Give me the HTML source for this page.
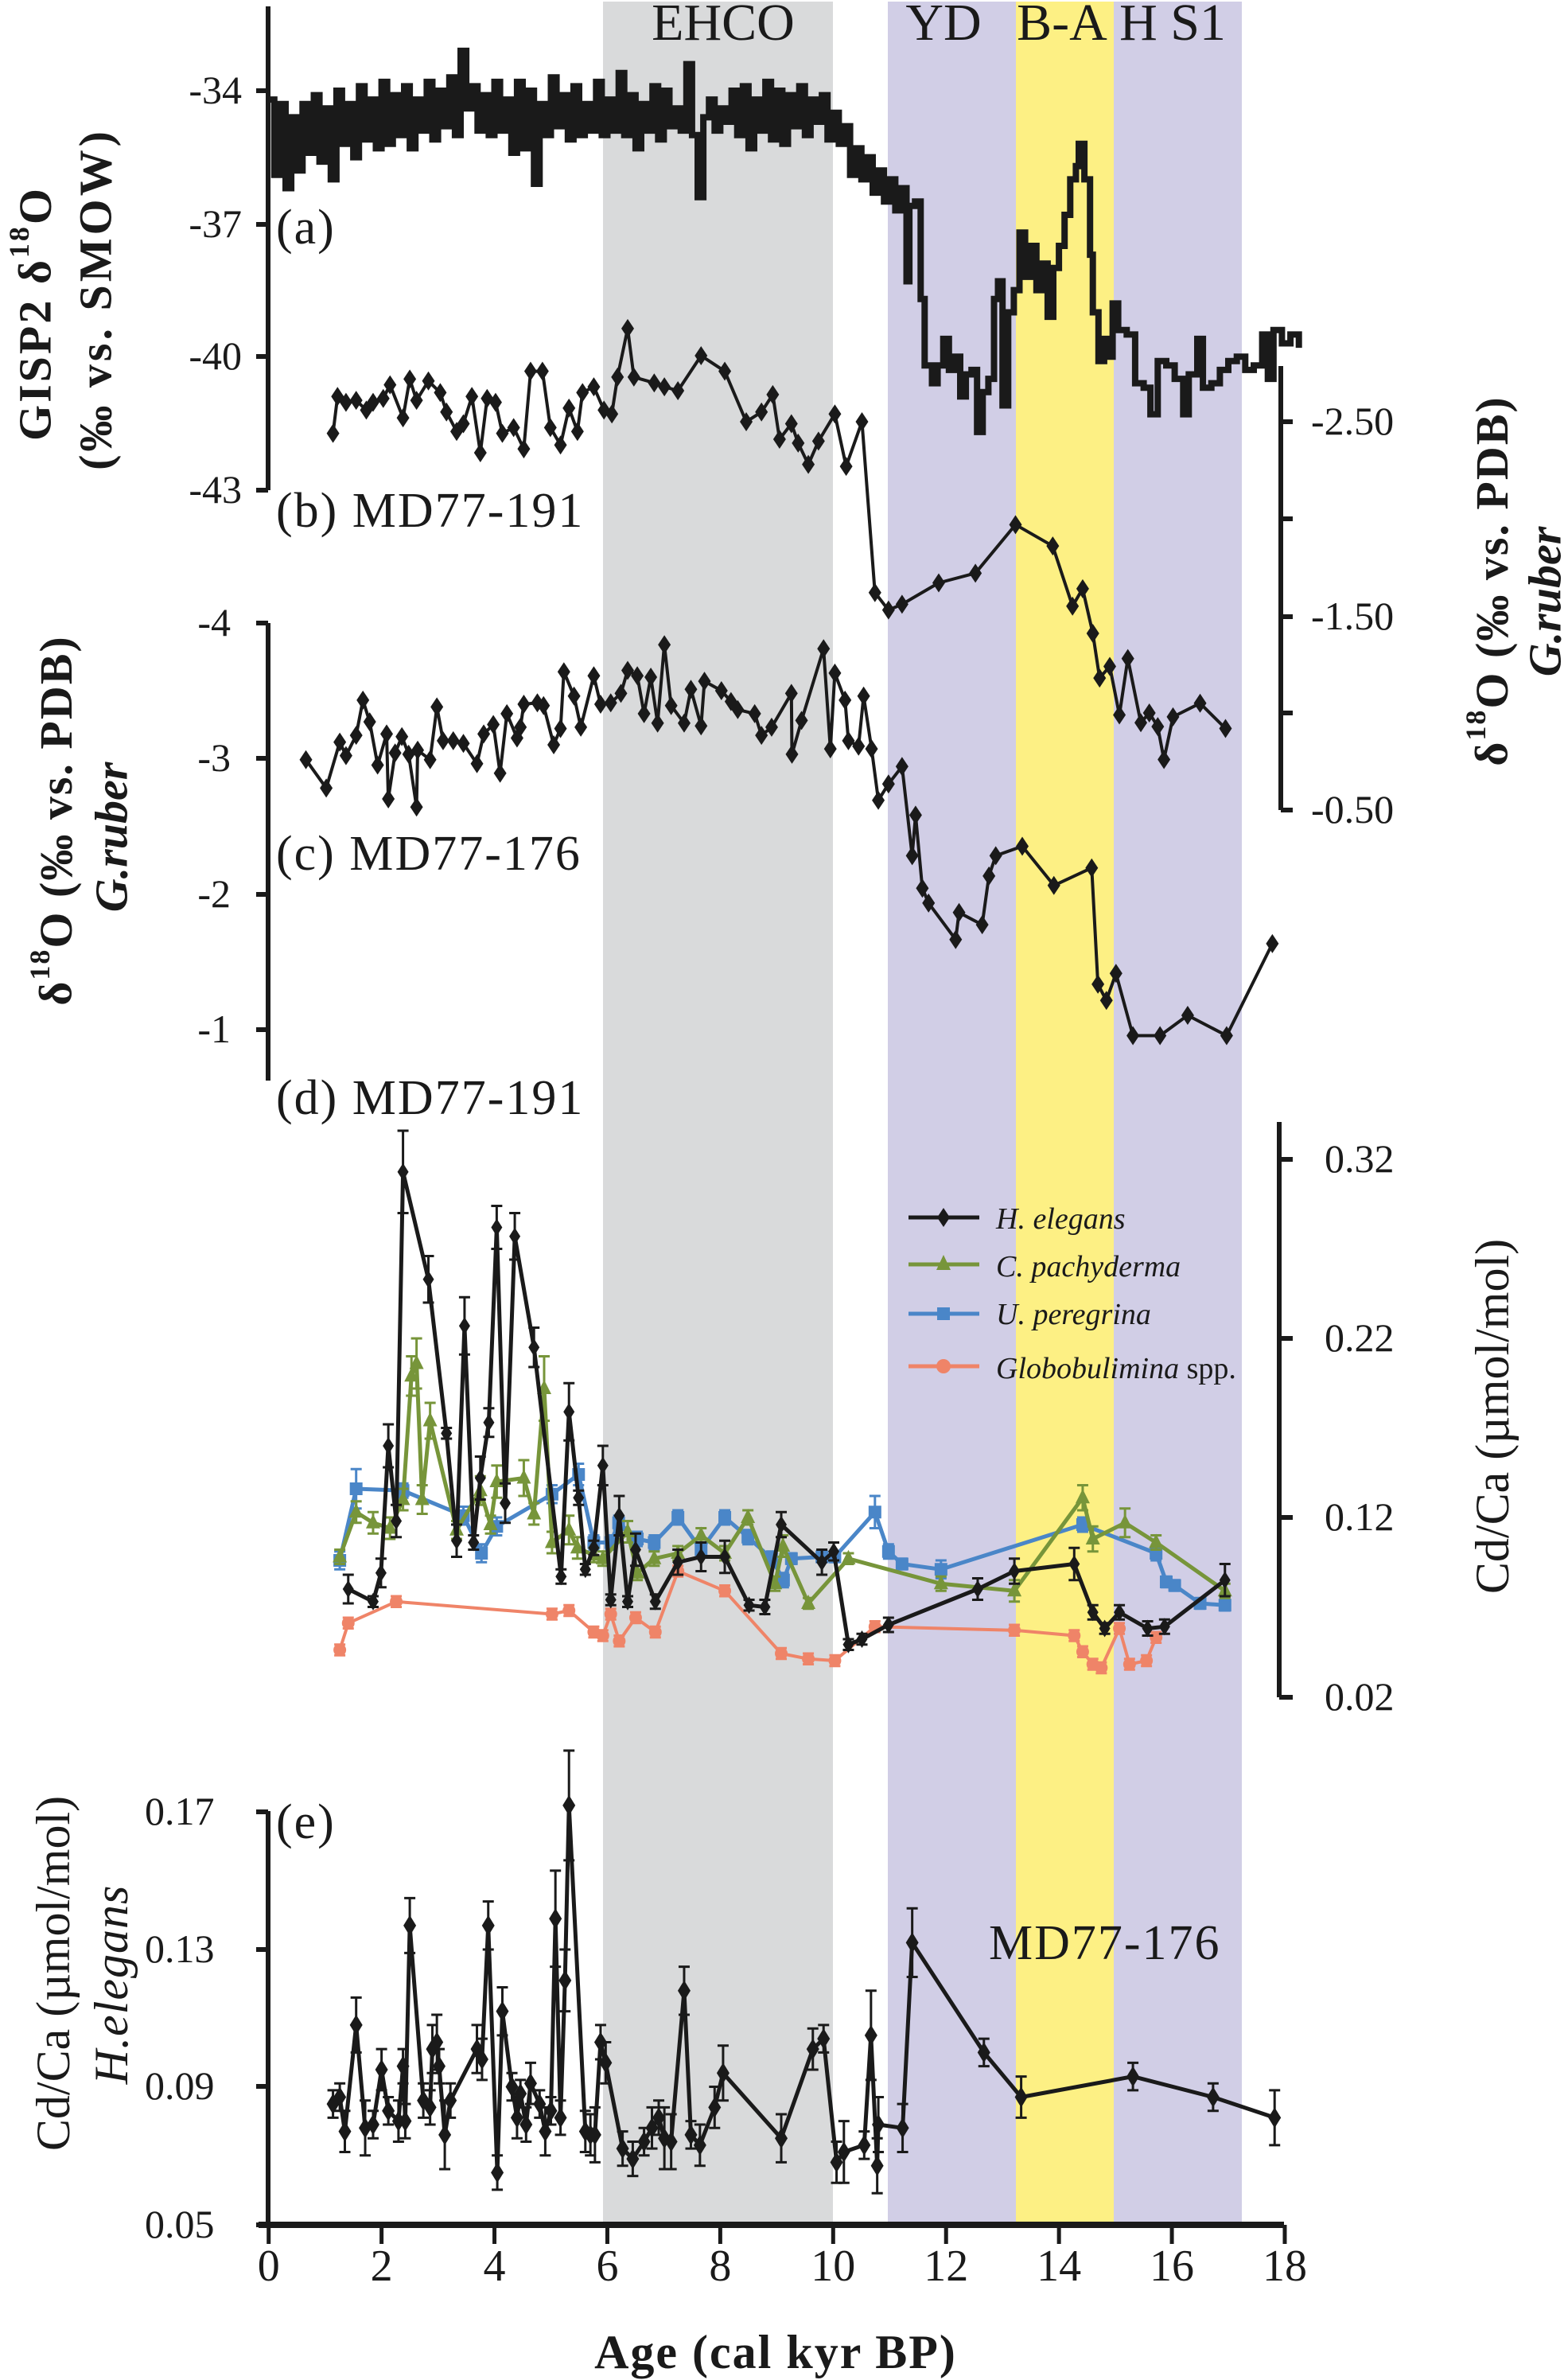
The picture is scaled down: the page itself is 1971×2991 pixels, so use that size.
<!DOCTYPE html>
<html><head><meta charset="utf-8"><title>GISP2 and MD77 records</title>
<style>
html,body{margin:0;padding:0;background:#fff;}
svg{display:block;font-family:"Liberation Serif","DejaVu Serif",serif;}
</style></head>
<body>
<svg id="chart" xmlns="http://www.w3.org/2000/svg" width="1971" height="2991" viewBox="0 0 1971 2991">
  <g>
    <rect x="758" y="2" width="289" height="2790" fill="#d9dadb"/>
    <rect x="1116" y="2" width="161" height="2790" fill="#d1cee6"/>
    <rect x="1277" y="2" width="123" height="2790" fill="#fdf084"/>
    <rect x="1400" y="2" width="161" height="2790" fill="#d1cee6"/>
  </g>
  <g font-size="66" fill="#1a1a1a" text-anchor="middle">
    <text x="909" y="50">EHCO</text>
    <text x="1186" y="50">YD</text>
    <text x="1335" y="50">B-A</text>
    <text x="1474" y="50">H S1</text>
  </g>

  <g stroke="#1a1a1a" stroke-width="6" fill="none">
    <path d="M337 8V616 M322 114H337 M322 282H337 M322 448H337 M322 616H337"/>
    <path d="M1610 460V1018 M1610 530H1625 M1610 652H1625 M1610 775H1625 M1610 896H1625 M1610 1018H1625"/>
    <path d="M337 783V1358 M322 783H337 M322 953H337 M322 1124H337 M322 1294H337"/>
    <path d="M1608 1410V2133 M1608 1457H1625 M1608 1682H1625 M1608 1907H1625 M1608 2133H1625"/>
    <path d="M337 2276V2796 M322 2277H337 M322 2450H337 M322 2622H337 M322 2796H337"/>
    <path stroke-width="8" d="M325 2796H1614"/>
  </g>
  <g id="xticks"></g>

  <g font-size="50" fill="#1a1a1a">
    <g text-anchor="end">
      <text x="304" y="130">-34</text>
      <text x="304" y="298">-37</text>
      <text x="304" y="464">-40</text>
      <text x="304" y="632">-43</text>
    </g>
    <g text-anchor="end">
      <text x="290" y="799">-4</text>
      <text x="290" y="969">-3</text>
      <text x="290" y="1140">-2</text>
      <text x="290" y="1310">-1</text>
    </g>
    <g>
      <text x="1648" y="546">-2.50</text>
      <text x="1648" y="791">-1.50</text>
      <text x="1648" y="1034">-0.50</text>
    </g>
    <g>
      <text x="1665" y="1473">0.32</text>
      <text x="1665" y="1698">0.22</text>
      <text x="1665" y="1923">0.12</text>
      <text x="1665" y="2149">0.02</text>
    </g>
    <g>
      <text x="182" y="2293">0.17</text>
      <text x="182" y="2466">0.13</text>
      <text x="182" y="2638">0.09</text>
      <text x="182" y="2812">0.05</text>
    </g>
  </g>

  <g fill="#1a1a1a" text-anchor="middle" dominant-baseline="central">
    <text transform="translate(44,394) rotate(-90)" font-size="58" font-weight="bold" letter-spacing="3">GISP2 δ<tspan font-size="36" dy="-20">18</tspan><tspan dy="20">O</tspan></text>
    <text transform="translate(120,376) rotate(-90)" font-size="58" font-weight="bold" letter-spacing="4">(‰ vs. SMOW)</text>
    <text transform="translate(70,1031) rotate(-90)" font-size="58" font-weight="bold" letter-spacing="2">δ<tspan font-size="36" dy="-20">18</tspan><tspan dy="20">O (‰ vs. PDB)</tspan></text>
    <text transform="translate(140,1052) rotate(-90)" font-size="58" font-weight="bold" font-style="italic">G.ruber</text>
    <text transform="translate(1875,730) rotate(-90)" font-size="58" font-weight="bold" letter-spacing="2">δ<tspan font-size="36" dy="-20">18</tspan><tspan dy="20">O (‰ vs. PDB)</tspan></text>
    <text transform="translate(1942,756) rotate(-90)" font-size="58" font-weight="bold" font-style="italic">G.ruber</text>
    <text transform="translate(1876,1780) rotate(-90)" font-size="60">Cd/Ca (µmol/mol)</text>
    <text transform="translate(67,2480) rotate(-90)" font-size="60">Cd/Ca (µmol/mol)</text>
    <text transform="translate(140,2494) rotate(-90)" font-size="60" font-style="italic" letter-spacing="1">H.elegans</text>
  </g>
  <text x="975" y="2976" text-anchor="middle" font-size="60" font-weight="bold" letter-spacing="2" fill="#1a1a1a">Age (cal kyr BP)</text>

  <g font-size="62" fill="#1a1a1a" letter-spacing="2">
    <text x="347" y="306">(a)</text>
    <text x="347" y="662">(b) MD77-191</text>
    <text x="347" y="1093">(c) MD77-176</text>
    <text x="347" y="1400">(d) MD77-191</text>
    <text x="347" y="2310">(e)</text>
    <text x="1243" y="2462">MD77-176</text>
  </g>

  <g id="series"></g>

  <g font-size="38" font-style="italic" fill="#1a1a1a">
    <g>
      <line x1="1142" y1="1530" x2="1231" y2="1530" stroke="#1a1a1a" stroke-width="5"/>
      <polygon points="1186,1518 1194,1530 1186,1542 1178,1530" fill="#1a1a1a"/>
      <text x="1252" y="1544">H. elegans</text>
    </g>
    <g>
      <line x1="1142" y1="1589" x2="1231" y2="1589" stroke="#77953a" stroke-width="5"/>
      <polygon points="1186,1577 1195,1596 1177,1596" fill="#77953a"/>
      <text x="1252" y="1604">C. pachyderma</text>
    </g>
    <g>
      <line x1="1142" y1="1651" x2="1231" y2="1651" stroke="#4a86c8" stroke-width="5"/>
      <rect x="1178" y="1643" width="16" height="16" fill="#4a86c8"/>
      <text x="1252" y="1664">U. peregrina</text>
    </g>
    <g>
      <line x1="1142" y1="1717" x2="1231" y2="1717" stroke="#ef8468" stroke-width="5"/>
      <circle cx="1186" cy="1717" r="9" fill="#ef8468"/>
      <text x="1252" y="1732">Globobulimina <tspan font-style="normal">spp.</tspan></text>
    </g>
  </g>
</svg>
<script>
// ---- data ----
const xTicks = [0,2,4,6,8,10,12,14,16,18];
const xTickLabels = ["0","2","4","6","8","10","12","14","16","18"];

const gispAge = [0.0,0.1,0.2,0.3,0.4,0.5,0.6,0.7,0.8,0.9,1.0,1.1,1.2,1.3,1.4,1.5,1.6,1.7,1.8,1.9,2.0,2.1,2.2,2.3,2.4,2.5,2.6,2.7,2.8,2.9,3.0,3.1,3.2,3.3,3.4,3.5,3.6,3.7,3.8,3.9,4.0,4.1,4.2,4.3,4.4,4.5,4.6,4.7,4.8,4.9,5.0,5.1,5.2,5.3,5.4,5.5,5.6,5.7,5.8,5.9,6.0,6.1,6.2,6.3,6.4,6.5,6.6,6.7,6.8,6.9,7.0,7.1,7.2,7.3,7.4,7.5,7.6,7.7,7.8,7.9,8.0,8.1,8.2,8.3,8.4,8.5,8.6,8.7,8.8,8.9,9.0,9.1,9.2,9.3,9.4,9.5,9.6,9.7,9.8,9.9,10.0,10.1,10.2,10.3,10.4,10.5,10.6,10.7,10.8,10.9,11.0,11.1,11.2,11.3,11.35,11.45,11.55,11.62,11.75,11.85,11.95,12.05,12.15,12.25,12.35,12.45,12.55,12.65,12.75,12.85,12.92,13.0,13.1,13.2,13.3,13.4,13.5,13.6,13.7,13.8,13.9,14.0,14.1,14.2,14.3,14.35,14.45,14.55,14.6,14.7,14.8,14.9,14.95,15.05,15.2,15.35,15.5,15.62,15.75,15.9,16.05,16.2,16.3,16.45,16.55,16.7,16.85,17.0,17.15,17.3,17.45,17.6,17.7,17.8,17.95,18.1,18.25];
const gispVal = [-34.2,-35.9,-34.3,-36.2,-34.6,-35.8,-34.3,-35.4,-34.1,-35.6,-34.4,-36.0,-34.0,-35.2,-34.3,-35.5,-33.9,-35.1,-34.2,-35.3,-33.8,-35.2,-34.1,-35.0,-33.9,-35.3,-34.2,-34.9,-33.8,-35.1,-34.0,-34.8,-33.7,-35.0,-33.1,-34.4,-33.9,-34.9,-34.1,-35.0,-33.8,-34.9,-34.2,-35.4,-33.8,-35.3,-34.0,-36.1,-34.3,-35.0,-33.7,-34.8,-34.1,-35.1,-33.9,-35.0,-34.3,-34.9,-33.8,-35.0,-34.2,-34.9,-33.6,-35.0,-34.1,-35.3,-34.3,-34.9,-33.9,-35.1,-34.0,-34.8,-34.4,-34.9,-33.4,-35.0,-36.4,-34.6,-34.2,-34.9,-34.4,-34.7,-34.0,-35.0,-33.9,-35.3,-34.2,-34.9,-33.8,-35.1,-34.0,-35.2,-34.1,-34.8,-33.9,-35.0,-34.2,-34.7,-34.1,-35.1,-34.5,-35.2,-34.8,-35.9,-35.3,-36.0,-35.5,-36.3,-35.8,-36.5,-36.0,-36.7,-36.2,-38.3,-36.6,-36.5,-38.7,-40.2,-40.6,-40.2,-39.6,-40.3,-40.0,-40.9,-40.4,-40.3,-41.7,-40.8,-40.5,-38.7,-38.3,-41.1,-39.0,-38.5,-37.2,-38.2,-37.5,-38.5,-37.9,-39.1,-38.0,-37.5,-36.8,-36.0,-35.7,-35.2,-36.0,-37.7,-39.0,-40.1,-39.6,-40.0,-38.8,-39.4,-39.5,-40.6,-40.7,-41.3,-40.1,-40.2,-40.5,-41.3,-40.4,-39.6,-40.7,-40.6,-40.3,-40.1,-40.0,-40.3,-40.2,-39.5,-40.5,-39.4,-39.7,-39.5,-39.8];

const b191Age = [1.14,1.22,1.37,1.55,1.73,1.85,2.03,2.15,2.38,2.50,2.62,2.83,3.04,3.15,3.33,3.45,3.60,3.75,3.87,4.02,4.14,4.34,4.52,4.64,4.85,4.99,5.17,5.32,5.47,5.56,5.76,5.94,6.08,6.18,6.36,6.47,6.83,7.01,7.25,7.66,8.08,8.46,8.73,8.93,9.05,9.26,9.38,9.56,9.74,10.03,10.23,10.51,10.74,10.98,11.22,11.87,12.52,13.23,13.89,14.24,14.42,14.60,14.72,14.90,15.07,15.22,15.45,15.60,15.75,15.86,16.02,16.50,16.95];
const b191Val = [-2.44,-2.63,-2.60,-2.61,-2.56,-2.60,-2.62,-2.69,-2.52,-2.72,-2.61,-2.71,-2.65,-2.55,-2.45,-2.49,-2.63,-2.34,-2.62,-2.60,-2.44,-2.47,-2.36,-2.76,-2.76,-2.47,-2.38,-2.57,-2.45,-2.65,-2.68,-2.56,-2.54,-2.73,-2.98,-2.73,-2.70,-2.68,-2.66,-2.84,-2.76,-2.50,-2.55,-2.64,-2.41,-2.49,-2.39,-2.28,-2.40,-2.54,-2.27,-2.50,-1.62,-1.53,-1.56,-1.67,-1.72,-1.97,-1.86,-1.55,-1.64,-1.41,-1.18,-1.24,-0.99,-1.28,-0.95,-1.00,-0.93,-0.76,-0.98,-1.05,-0.92];

const c176Age = [0.66,1.02,1.26,1.37,1.55,1.67,1.79,1.93,2.09,2.12,2.24,2.36,2.48,2.62,2.64,2.86,2.98,3.09,3.27,3.45,3.69,3.81,3.98,4.10,4.22,4.40,4.46,4.52,4.76,4.87,5.05,5.17,5.23,5.41,5.53,5.76,5.88,6.06,6.24,6.36,6.53,6.65,6.77,6.89,7.01,7.13,7.36,7.48,7.66,7.72,8.02,8.19,8.31,8.61,8.73,8.91,9.26,9.27,9.44,9.83,9.95,10.03,10.21,10.27,10.45,10.54,10.68,10.80,10.98,11.22,11.40,11.46,11.58,11.69,12.17,12.23,12.64,12.76,12.88,13.35,13.91,14.58,14.69,14.84,15.01,15.31,15.79,16.28,16.97,17.78];
const c176Val = [-2.99,-2.78,-3.12,-3.02,-3.17,-3.43,-3.27,-2.95,-3.18,-2.70,-3.04,-3.16,-3.03,-2.64,-3.06,-2.99,-3.38,-3.13,-3.13,-3.11,-2.96,-3.18,-3.25,-2.89,-3.33,-3.15,-3.23,-3.40,-3.41,-3.39,-3.10,-3.22,-3.64,-3.46,-3.23,-3.61,-3.40,-3.41,-3.48,-3.65,-3.61,-3.33,-3.60,-3.26,-3.84,-3.39,-3.26,-3.51,-3.24,-3.57,-3.50,-3.42,-3.36,-3.33,-3.17,-3.23,-3.48,-3.03,-3.28,-3.81,-3.07,-3.63,-3.43,-3.13,-3.09,-3.46,-3.07,-2.69,-2.81,-2.94,-2.28,-2.58,-2.04,-1.93,-1.66,-1.86,-1.77,-2.13,-2.28,-2.35,-2.06,-2.19,-1.33,-1.21,-1.41,-0.95,-0.95,-1.10,-0.95,-1.63];

const helAge = [1.41,1.85,1.99,2.12,2.26,2.38,2.83,3.15,3.33,3.47,3.63,3.75,3.90,4.04,4.19,4.36,4.70,5.18,5.32,5.49,5.61,5.76,5.92,6.06,6.21,6.36,6.50,6.85,7.25,7.66,8.08,8.51,8.79,9.08,9.80,10.01,10.27,10.51,10.98,12.56,13.21,14.27,14.60,14.81,15.07,15.57,15.87,16.94];
const helVal = [0.080,0.073,0.089,0.160,0.118,0.313,0.253,0.167,0.107,0.227,0.106,0.142,0.173,0.282,0.128,0.277,0.215,0.087,0.179,0.131,0.091,0.103,0.149,0.074,0.121,0.073,0.102,0.073,0.095,0.098,0.098,0.071,0.070,0.116,0.095,0.101,0.049,0.052,0.060,0.080,0.090,0.094,0.067,0.058,0.067,0.058,0.059,0.085];
const helErr = [0.008,0.003,0.008,0.012,0.009,0.023,0.013,0.003,0.009,0.016,0.004,0.012,0.008,0.012,0.011,0.013,0.011,0.004,0.016,0.004,0.003,0.004,0.011,0.003,0.011,0.003,0.009,0.004,0.007,0.008,0.009,0.003,0.004,0.007,0.007,0.005,0.003,0.003,0.004,0.006,0.007,0.009,0.004,0.003,0.004,0.004,0.004,0.009];

const cpaAge = [1.26,1.55,1.85,2.15,2.38,2.53,2.62,2.72,2.86,3.33,3.75,3.93,4.04,4.52,4.70,4.88,5.02,5.32,5.47,5.76,5.92,6.36,6.53,6.83,7.25,7.66,8.08,8.49,8.97,9.11,9.56,10.27,11.91,13.21,14.42,14.60,15.17,15.72,16.94];
const cpaVal = [0.098,0.123,0.117,0.114,0.130,0.199,0.206,0.130,0.174,0.113,0.135,0.116,0.140,0.142,0.122,0.192,0.106,0.113,0.103,0.099,0.097,0.112,0.089,0.097,0.100,0.110,0.100,0.120,0.083,0.104,0.072,0.097,0.083,0.079,0.131,0.108,0.117,0.106,0.079];
const cpaErr = [0.004,0.006,0.006,0.006,0.006,0.011,0.014,0.008,0.010,0.005,0.008,0.005,0.009,0.010,0.006,0.018,0.006,0.008,0.006,0.004,0.004,0.006,0.004,0.004,0.004,0.004,0.004,0.004,0.004,0.006,0.003,0.003,0.004,0.006,0.007,0.007,0.008,0.004,0.004];

const uperAge = [1.26,1.55,2.38,3.45,3.77,4.04,5.02,5.49,5.76,6.06,6.20,6.53,6.83,7.25,7.66,8.08,8.49,8.91,9.12,9.26,9.80,10.03,10.74,10.98,11.22,11.91,14.42,15.72,15.90,16.05,16.50,16.94];
const uperVal = [0.096,0.136,0.135,0.121,0.100,0.115,0.133,0.144,0.106,0.106,0.117,0.108,0.106,0.120,0.102,0.120,0.109,0.097,0.085,0.097,0.098,0.098,0.123,0.101,0.094,0.091,0.116,0.100,0.084,0.082,0.072,0.071];
const uperErr = [0.005,0.011,0.004,0.005,0.005,0.005,0.005,0.006,0.004,0.004,0.004,0.004,0.004,0.004,0.004,0.004,0.004,0.004,0.004,0.003,0.003,0.003,0.009,0.004,0.003,0.005,0.004,0.004,0.003,0.003,0.003,0.003];

const globAge = [1.26,1.41,2.26,5.02,5.32,5.76,5.92,6.06,6.21,6.50,6.85,7.25,8.08,9.08,9.56,10.03,10.74,13.21,14.27,14.42,14.60,14.75,15.07,15.25,15.55,15.72];
const globVal = [0.046,0.061,0.073,0.066,0.068,0.056,0.054,0.066,0.051,0.064,0.056,0.090,0.079,0.044,0.041,0.040,0.059,0.057,0.054,0.045,0.038,0.036,0.058,0.038,0.040,0.053];
const globErr = [0.003,0.003,0.003,0.003,0.003,0.003,0.003,0.003,0.003,0.003,0.003,0.003,0.003,0.003,0.003,0.003,0.003,0.003,0.003,0.003,0.003,0.003,0.003,0.003,0.003,0.003];

const e176Age = [1.14,1.26,1.35,1.55,1.71,1.85,2.00,2.12,2.30,2.38,2.42,2.50,2.74,2.86,2.90,2.98,3.02,3.12,3.22,3.69,3.78,3.89,4.05,4.14,4.31,4.40,4.46,4.56,4.64,4.80,4.90,5.00,5.08,5.17,5.25,5.32,5.61,5.70,5.78,5.88,5.97,6.27,6.45,6.65,6.79,6.91,7.01,7.13,7.36,7.48,7.64,7.90,8.05,9.08,9.64,9.83,10.06,10.19,10.55,10.67,10.78,10.80,11.23,11.40,12.67,13.33,15.31,16.73,17.82];
const e176Val = [0.085,0.087,0.077,0.108,0.078,0.079,0.095,0.083,0.080,0.096,0.080,0.137,0.086,0.084,0.101,0.103,0.096,0.076,0.086,0.101,0.098,0.137,0.065,0.112,0.090,0.081,0.088,0.079,0.091,0.085,0.077,0.083,0.139,0.081,0.121,0.172,0.077,0.076,0.076,0.103,0.097,0.072,0.069,0.074,0.078,0.081,0.075,0.074,0.118,0.076,0.073,0.084,0.094,0.075,0.101,0.104,0.068,0.071,0.073,0.105,0.067,0.079,0.078,0.132,0.100,0.087,0.093,0.087,0.081];
const e176Err = [0.004,0.004,0.006,0.008,0.008,0.004,0.006,0.004,0.006,0.005,0.005,0.008,0.005,0.005,0.007,0.008,0.005,0.010,0.005,0.007,0.006,0.007,0.005,0.007,0.004,0.006,0.004,0.005,0.006,0.004,0.007,0.004,0.014,0.005,0.009,0.016,0.006,0.006,0.008,0.005,0.006,0.005,0.005,0.004,0.006,0.005,0.009,0.008,0.007,0.004,0.006,0.006,0.008,0.007,0.006,0.004,0.006,0.009,0.004,0.013,0.008,0.008,0.007,0.010,0.004,0.006,0.004,0.004,0.008];

// ---- scales ----
const X = k => 337.7 + k * 70.96;
const Ya = v => 114 + (-34 - v) * 55.7;
const Yb = v => 530 + (v + 2.5) * 244;
const Yc = v => 783 + (v + 4) * 170;
const Yd = v => 1457 + (0.32 - v) * 2250;
const Ye = v => 2795 - (v - 0.05) * 4312;

const NS = 'http://www.w3.org/2000/svg';
function mk(tag, attrs, parent) {
  const el = document.createElementNS(NS, tag);
  for (const k in attrs) el.setAttribute(k, attrs[k]);
  parent.appendChild(el);
  return el;
}
const diamond = (x, y, w, h) => `${x},${y-h} ${x+w},${y} ${x},${y+h} ${x-w},${y}`;
const linePath = (ages, vals, Y) => ages.map((a, i) => (i ? 'L' : 'M') + X(a).toFixed(1) + ' ' + Y(vals[i]).toFixed(1)).join(' ');

// x ticks
const xt = document.getElementById('xticks');
xTicks.forEach((k, i) => {
  const t = mk('line', {x1: X(k), x2: X(k), y1: 2796, y2: 2820, stroke: '#1a1a1a', 'stroke-width': 5}, xt);
  
  
  const l = mk('text', {x: X(k), y: 2866, 'text-anchor': 'middle', 'font-size': 56, fill: '#1a1a1a'}, xt);
  
  
  l.textContent = xTickLabels[i];
});

const S = document.getElementById('series');

// (a) GISP2 stepped line
let dA = '';
gispAge.forEach((a, i) => {
  const x = X(a).toFixed(1), y = Ya(gispVal[i]).toFixed(1);
  if (i === 0) dA += `M${x} ${y}`;
  else dA += ` H${x} V${y}`;
});
const pa = mk('path', {d: dA, fill: 'none', stroke: '#1a1a1a', 'stroke-width': 8, 'stroke-linejoin': 'miter'}, S);



function lineSeries(ages, vals, Y, color, width, name) {
  const p = mk('path', {d: linePath(ages, vals, Y), fill: 'none', stroke: color, 'stroke-width': width, 'stroke-linejoin': 'round'}, S);
  
  
}
function errBars(ages, vals, errs, Y, color, name) {
  ages.forEach((a, i) => {
    const x = X(a), y1 = Y(vals[i] + errs[i]), y2 = Y(vals[i] - errs[i]);
    const e = mk('path', {d: `M${x} ${y1}V${y2} M${x-7} ${y1}H${x+7} M${x-7} ${y2}H${x+7}`, stroke: color, 'stroke-width': 3, fill: 'none'}, S);
    
    
  });
}

// (b) MD77-191 d18O
lineSeries(b191Age, b191Val, Yb, '#1a1a1a', 4, 'md77-191-d18o-line');
b191Age.forEach((a, i) => {
  const m = mk('polygon', {points: diamond(X(a), Yb(b191Val[i]), 8, 12), fill: '#1a1a1a'}, S);
  
  
});

// (c) MD77-176 d18O
lineSeries(c176Age, c176Val, Yc, '#1a1a1a', 4, 'md77-176-d18o-line');
c176Age.forEach((a, i) => {
  const m = mk('polygon', {points: diamond(X(a), Yc(c176Val[i]), 8, 12), fill: '#1a1a1a'}, S);
  
  
});

// (d) Cd/Ca MD77-191
errBars(globAge, globVal, globErr, Yd, '#ef8468', 'globobulimina-error-bar');
lineSeries(globAge, globVal, Yd, '#ef8468', 4, 'globobulimina-line');
globAge.forEach((a, i) => {
  const m = mk('circle', {cx: X(a), cy: Yd(globVal[i]), r: 8, fill: '#ef8468'}, S);
  
  
});
errBars(uperAge, uperVal, uperErr, Yd, '#4a86c8', 'u-peregrina-error-bar');
lineSeries(uperAge, uperVal, Yd, '#4a86c8', 5, 'u-peregrina-line');
uperAge.forEach((a, i) => {
  const m = mk('rect', {x: X(a) - 8, y: Yd(uperVal[i]) - 8, width: 16, height: 16, fill: '#4a86c8'}, S);
  
  
});
errBars(cpaAge, cpaVal, cpaErr, Yd, '#77953a', 'c-pachyderma-error-bar');
lineSeries(cpaAge, cpaVal, Yd, '#77953a', 5, 'c-pachyderma-line');
cpaAge.forEach((a, i) => {
  const x = X(a), y = Yd(cpaVal[i]);
  const m = mk('polygon', {points: `${x},${y-11} ${x+9},${y+7} ${x-9},${y+7}`, fill: '#77953a'}, S);
  
  
});
errBars(helAge, helVal, helErr, Yd, '#1a1a1a', 'h-elegans-error-bar');
lineSeries(helAge, helVal, Yd, '#1a1a1a', 5, 'h-elegans-line');
helAge.forEach((a, i) => {
  const m = mk('polygon', {points: diamond(X(a), Yd(helVal[i]), 7, 11), fill: '#1a1a1a'}, S);
  
  
});

// (e) Cd/Ca MD77-176
errBars(e176Age, e176Val, e176Err, Ye, '#1a1a1a', 'md77-176-cdca-error-bar');
lineSeries(e176Age, e176Val, Ye, '#1a1a1a', 5, 'md77-176-cdca-line');
e176Age.forEach((a, i) => {
  const m = mk('polygon', {points: diamond(X(a), Ye(e176Val[i]), 8, 13), fill: '#1a1a1a'}, S);
  
  
});
</script>
</body></html>
